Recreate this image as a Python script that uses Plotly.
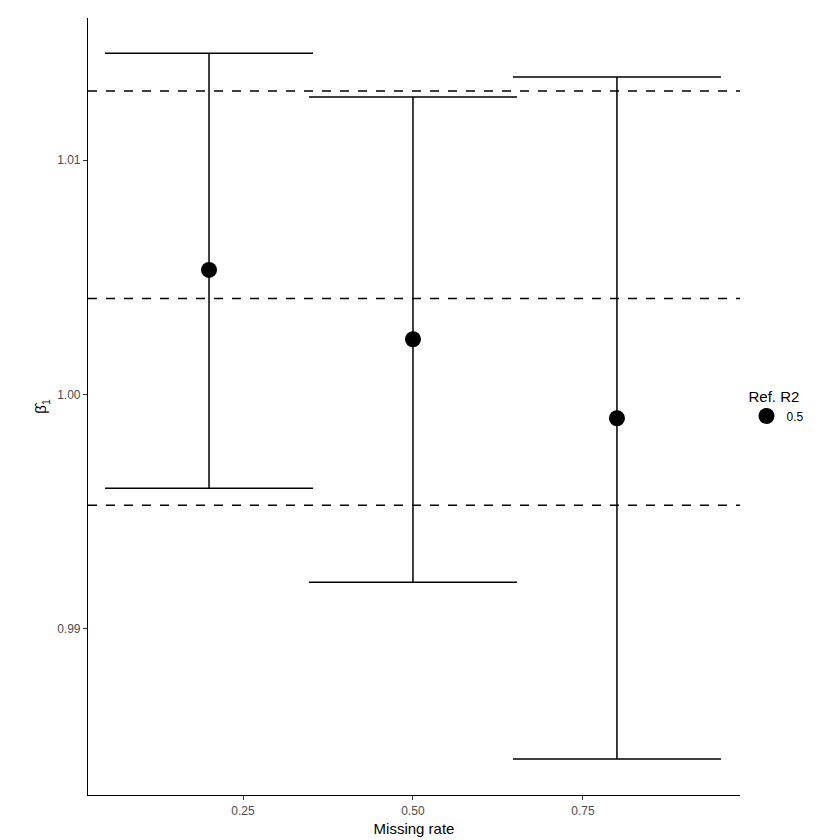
import plotly.graph_objects as go

missing_rate = [0.2, 0.5, 0.8]
estimate = [1.00531, 1.00235, 0.99898]
upper = [1.01456, 1.01269, 1.01354]
lower = [0.99599, 0.99198, 0.98444]
ref_lines = [1.01294, 1.00409, 0.99527]

fig = go.Figure()
fig.add_trace(go.Scatter(
    x=missing_rate, y=estimate, mode="markers", name="0.5",
    marker=dict(color="black", size=16),
    error_y=dict(type="data", symmetric=False,
                 array=[u - e for u, e in zip(upper, estimate)],
                 arrayminus=[e - l for e, l in zip(estimate, lower)],
                 color="black", thickness=1.5, width=104),
    showlegend=True,
))
for y in ref_lines:
    fig.add_hline(y=y, line=dict(color="black", width=1.5, dash="dash"))

axis_common = dict(showgrid=False, zeroline=False, showline=True, linecolor="black",
                   linewidth=1.2, ticks="outside", ticklen=4, tickcolor="#333",
                   tickfont=dict(size=12, color="#4d4d4d"), mirror=False, automargin=False)
fig.update_xaxes(**axis_common, range=[0.022, 0.981], tickvals=[0.25, 0.5, 0.75],
                 ticktext=["0.25", "0.50", "0.75"],
                 title=dict(text="Missing rate", font=dict(size=15, color="black"), standoff=6))
fig.update_yaxes(**axis_common, range=[0.9829, 1.01606], tickvals=[0.99, 1.0, 1.01],
                 ticktext=["0.99", "1.00", "1.01"],
                 title=dict(text="β̂<sub>1</sub>", font=dict(size=15, color="black"), standoff=6))
fig.update_layout(
    width=840, height=840, plot_bgcolor="white", paper_bgcolor="white",
    margin=dict(l=80, r=108, t=10, b=53, autoexpand=False),
    font=dict(family="Liberation Sans, Arial, sans-serif", color="black"),
    legend=dict(title=dict(text="Ref. R2", font=dict(size=15, color="black")),
                font=dict(size=12, color="black"),
                x=1.01, y=0.5, xanchor="left", yanchor="middle"),
)
fig.write_html("out.html")
